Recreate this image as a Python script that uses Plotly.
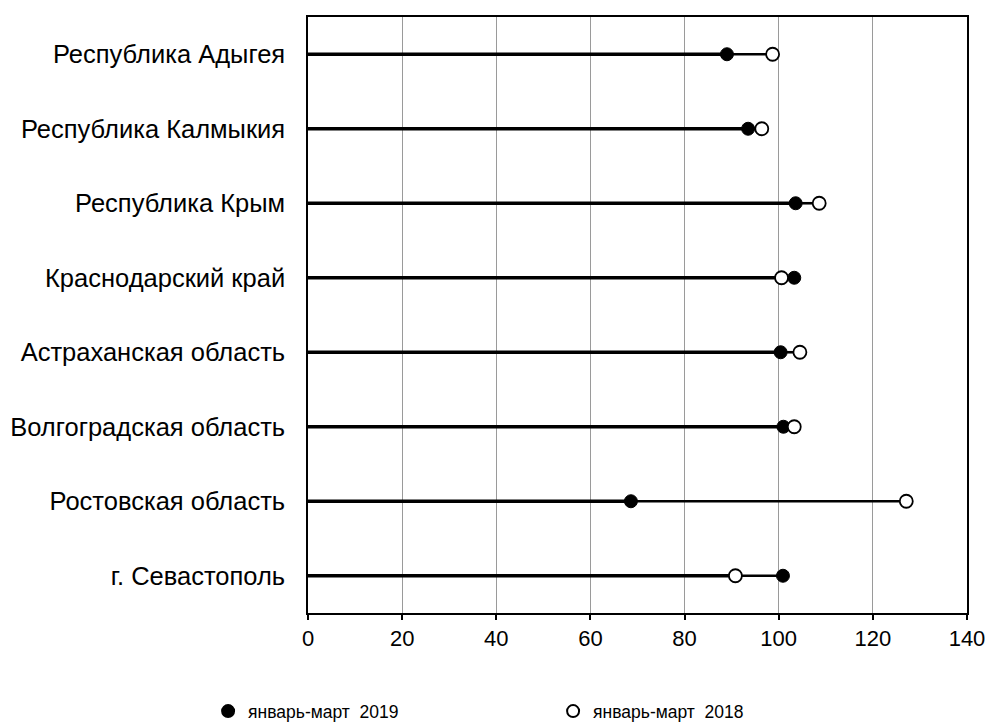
import plotly.graph_objects as go

regions = ["Республика Адыгея", "Республика Калмыкия", "Республика Крым",
           "Краснодарский край", "Астраханская область", "Волгоградская область",
           "Ростовская область", "г. Севастополь"]
v2019 = [89.0, 93.5, 103.6, 103.3, 100.4, 101.0, 68.6, 100.9]
v2018 = [98.7, 96.4, 108.6, 100.6, 104.5, 103.3, 127.1, 90.8]
name2019 = "январь-март  2019"
name2018 = "январь-март  2018"
x_ticks = [0, 20, 40, 60, 80, 100, 120, 140]

fig = go.Figure()

# connector lines: thicker where the two series overlap (0..min), thinner from min..max
for r, a, b in zip(regions, v2019, v2018):
    lo, hi = min(a, b), max(a, b)
    fig.add_trace(go.Scatter(x=[0, lo], y=[r, r], mode="lines",
                             line=dict(color="black", width=3.6),
                             showlegend=False, hoverinfo="skip"))
    fig.add_trace(go.Scatter(x=[lo, hi], y=[r, r], mode="lines",
                             line=dict(color="black", width=2.6),
                             showlegend=False, hoverinfo="skip"))

fig.add_trace(go.Scatter(x=v2019, y=regions, mode="markers", name=name2019,
                         marker=dict(symbol="circle", size=13, color="black",
                                     line=dict(color="black", width=1))))
fig.add_trace(go.Scatter(x=v2018, y=regions, mode="markers", name=name2018,
                         marker=dict(symbol="circle", size=13, color="white",
                                     line=dict(color="black", width=1.8))))

fig.update_layout(
    width=989, height=724,
    margin=dict(l=308, r=22, t=17, b=111, autoexpand=False),
    paper_bgcolor="white", plot_bgcolor="white",
    font=dict(family="Liberation Sans, Arial, sans-serif", size=22, color="black"),
    legend=dict(orientation="h", x=-0.1516, xanchor="left", y=-0.1346, yanchor="top",
                entrywidth=300, entrywidthmode="pixels",
                font=dict(size=17.5), itemsizing="constant", tracegroupgap=0),
    showlegend=True,
)
fig.update_xaxes(range=[0, 140], tickvals=x_ticks, ticktext=[str(t) for t in x_ticks],
                 showgrid=True, gridcolor="#9a9a9a", gridwidth=1,
                 showline=True, linecolor="black", linewidth=1.5, mirror=True,
                 ticks="outside", ticklen=5, tickcolor="black", tickwidth=1.5,
                 tickfont=dict(size=22),
                 zeroline=False, fixedrange=True, automargin=False)
fig.update_yaxes(categoryorder="array", categoryarray=regions,
                 range=[len(regions) - 0.5, -0.5],
                 showgrid=False, showline=True, linecolor="black", linewidth=1.5,
                 mirror=True, ticks="", ticklabelstandoff=16, zeroline=False,
                 tickfont=dict(size=25.5),
                 fixedrange=True, automargin=False)

# remove the default page margin so the 989x724 figure fills the window exactly
fig.write_html("out.html",
               config={"displayModeBar": False},
               post_script="document.body.style.margin='0';document.body.style.overflow='hidden';")
